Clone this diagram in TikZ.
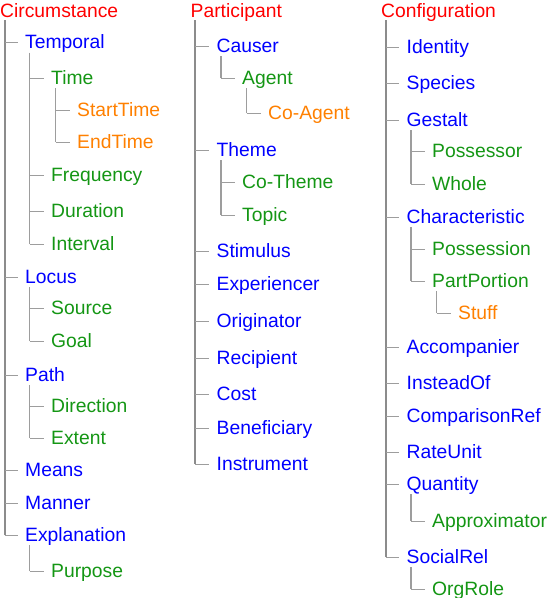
\documentclass[tikz,border=0pt]{standalone}
\usepackage{fontspec}
\setmainfont{Liberation Sans}
\definecolor{cRed}{RGB}{255,0,0}
\definecolor{cBlue}{RGB}{0,0,255}
\definecolor{cGreen}{RGB}{20,150,20}
\definecolor{cOrange}{RGB}{255,128,0}
\definecolor{cLine}{RGB}{140,140,140}
\begin{document}
\begin{tikzpicture}[x=1pt,y=-1pt,
  lbl/.style={anchor=base west, inner sep=0pt, text height=15pt, text depth=3pt,
    font=\fontsize{19.3}{22}\selectfont},
  lv0/.style={lbl, text=cRed},
  lv1/.style={lbl, text=cBlue},
  lv2/.style={lbl, text=cGreen},
  lv3/.style={lbl, text=cOrange},
  trunk/.style={draw=cLine, line width=2pt},
  subtrunk/.style={draw=cLine!85, line width=1.1pt},
  tick/.style={draw=cLine!85, line width=1pt}]
\useasboundingbox (0,0) rectangle (550,598);

% ---------- Column 1: Circumstance ----------
\node[lv0] (circ) at (0,17) {Circumstance};
\node[lv1] (temp) at (25,48.5) {Temporal};
\node[lv2] (time) at (51,84) {Time};
\node[lv3] (start) at (77,116) {StartTime};
\node[lv3] (end) at (77,148) {EndTime};
\node[lv2] (freq) at (51,181) {Frequency};
\node[lv2] (dur) at (51,217) {Duration};
\node[lv2] (intv) at (51,250) {Interval};
\node[lv1] (locus) at (25,283) {Locus};
\node[lv2] (source) at (51,314) {Source};
\node[lv2] (goal) at (51,347) {Goal};
\node[lv1] (path) at (25,381) {Path};
\node[lv2] (dir) at (51,412) {Direction};
\node[lv2] (extent) at (51,444) {Extent};
\node[lv1] (means) at (25,476) {Means};
\node[lv1] (manner) at (25,509) {Manner};
\node[lv1] (expl) at (25,541) {Explanation};
\node[lv2] (purp) at (51,577) {Purpose};

% ---------- Column 2: Participant ----------
\node[lv0] (part) at (190.5,17) {Participant};
\node[lv1] (causer) at (216.5,52) {Causer};
\node[lv2] (agent) at (242,84) {Agent};
\node[lv3] (coagent) at (268,119) {Co-Agent};
\node[lv1] (theme) at (216.5,156) {Theme};
\node[lv2] (cotheme) at (242,188) {Co-Theme};
\node[lv2] (topic) at (242,221) {Topic};
\node[lv1] (stim) at (216.5,257) {Stimulus};
\node[lv1] (exper) at (216.5,290) {Experiencer};
\node[lv1] (orig) at (216.5,327) {Originator};
\node[lv1] (recip) at (216.5,364) {Recipient};
\node[lv1] (cost) at (216.5,400) {Cost};
\node[lv1] (benef) at (216.5,434) {Beneficiary};
\node[lv1] (instr) at (216.5,470) {Instrument};

% ---------- Column 3: Configuration ----------
\node[lv0] (conf) at (381,17) {Configuration};
\node[lv1] (ident) at (406.5,53) {Identity};
\node[lv1] (species) at (406.5,89) {Species};
\node[lv1] (gestalt) at (406.5,126) {Gestalt};
\node[lv2] (possr) at (432,157) {Possessor};
\node[lv2] (whole) at (432,190) {Whole};
\node[lv1] (charac) at (406.5,223) {Characteristic};
\node[lv2] (possn) at (432,255) {Possession};
\node[lv2] (partp) at (432,287) {PartPortion};
\node[lv3] (stuff) at (458,319) {Stuff};
\node[lv1] (accomp) at (406.5,353) {Accompanier};
\node[lv1] (instead) at (406.5,389) {InsteadOf};
\node[lv1] (compar) at (406.5,422) {ComparisonRef};
\node[lv1] (rate) at (406.5,458) {RateUnit};
\node[lv1] (quant) at (406.5,490) {Quantity};
\node[lv2] (approx) at (432,527) {Approximator};
\node[lv1] (social) at (406.5,563) {SocialRel};
\node[lv2] (orgrole) at (432,595) {OrgRole};

% ---------- main trunks ----------
\foreach \p/\l in {circ/expl, part/instr, conf/social}
  \draw[trunk] ([xshift=4.5pt]\p.south west) -- ([xshift=4.5pt]\p.south west |- \l.west);

% ---------- sub trunks ----------
\foreach \p/\l in {temp/intv, time/end, locus/goal, path/extent, expl/purp,
                   causer/agent, agent/coagent, theme/topic,
                   gestalt/whole, charac/partp, partp/stuff, quant/approx, social/orgrole}
  \draw[subtrunk] ([xshift=4.5pt,yshift=-1pt]\p.south west) -- ([xshift=4.5pt]\p.south west |- \l.west);

% ---------- ticks ----------
\foreach \p/\c in {circ/temp, circ/locus, circ/path, circ/means, circ/manner, circ/expl,
                   temp/time, temp/freq, temp/dur, temp/intv,
                   time/start, time/end,
                   locus/source, locus/goal,
                   path/dir, path/extent,
                   expl/purp,
                   part/causer, part/theme, part/stim, part/exper, part/orig, part/recip,
                   part/cost, part/benef, part/instr,
                   causer/agent, agent/coagent, theme/cotheme, theme/topic,
                   conf/ident, conf/species, conf/gestalt, conf/charac, conf/accomp,
                   conf/instead, conf/compar, conf/rate, conf/quant, conf/social,
                   gestalt/possr, gestalt/whole, charac/possn, charac/partp,
                   partp/stuff, quant/approx, social/orgrole}
  \draw[tick] ([xshift=4.5pt]\p.south west |- \c.west) -- ([xshift=-7.5pt]\c.west);
\end{tikzpicture}
\end{document}
